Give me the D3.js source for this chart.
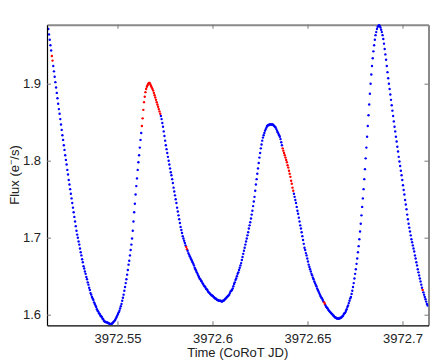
<!DOCTYPE html>
<html lang="en">
<head>
    <meta charset="UTF-8">
    <title>CoRoT light curve</title>
    <script type="text/javascript" src="https://cdn.jsdelivr.net/npm/d3@7/dist/d3.min.js"></script>
    <style>
        body { margin: 0; background: #fff; }
        text { font-family: "Liberation Sans", Arial, sans-serif; }
    </style>
</head>
<body>
    <script type="text/javascript">

        //Width and height
        var w = 436;
        var h = 360;
        var margin = {left: 47, right: 7.5, top: 24.7, bottom: 34.7};

        // light curve, one flux value per 32 s exposure
        var t0 = 3972.5136;          // time of first exposure (CoRoT JD)
        var cadence = 32 / 86400;    // days

        var flux = [
            1.971,1.964,1.957,1.950,1.943,1.936,1.930,1.923,1.916,1.909,
            1.902,1.895,1.888,1.881,1.874,1.867,1.861,1.854,1.847,1.840,
            1.833,1.827,1.820,1.814,1.807,1.801,1.795,1.788,1.782,1.775,
            1.769,1.763,1.757,1.751,1.745,1.739,1.733,1.727,1.721,1.715,
            1.709,1.704,1.700,1.695,1.691,1.686,1.681,1.677,1.672,1.668,
            1.663,1.660,1.656,1.653,1.649,1.646,1.642,1.639,1.635,1.632,
            1.628,1.626,1.623,1.621,1.619,1.616,1.614,1.612,1.610,1.607,
            1.605,1.604,1.602,1.601,1.599,1.598,1.597,1.595,1.594,1.592,
            1.591,1.591,1.590,1.590,1.590,1.589,1.589,1.588,1.588,1.588,
            1.588,1.589,1.590,1.591,1.592,1.593,1.595,1.597,1.599,1.601,
            1.603,1.605,1.608,1.611,1.614,1.618,1.622,1.626,1.631,1.636,
            1.641,1.646,1.652,1.658,1.665,1.670,1.677,1.684,1.691,1.699,
            1.709,1.721,1.733,1.744,1.756,1.767,1.777,1.788,1.798,1.807,
            1.817,1.827,1.836,1.845,1.855,1.866,1.876,1.883,1.889,1.893,
            1.896,1.898,1.900,1.901,1.901,1.899,1.897,1.895,1.893,1.891,
            1.888,1.885,1.882,1.879,1.876,1.873,1.870,1.867,1.864,1.861,
            1.858,1.854,1.849,1.844,1.838,1.832,1.826,1.820,1.815,1.810,
            1.805,1.800,1.795,1.790,1.785,1.781,1.776,1.771,1.765,1.760,
            1.755,1.750,1.745,1.739,1.734,1.729,1.724,1.719,1.714,1.710,
            1.706,1.702,1.699,1.696,1.693,1.690,1.688,1.685,1.683,1.680,
            1.678,1.676,1.674,1.672,1.670,1.668,1.666,1.664,1.661,1.659,
            1.657,1.655,1.653,1.651,1.649,1.647,1.646,1.644,1.643,1.641,
            1.640,1.638,1.637,1.636,1.634,1.633,1.632,1.630,1.629,1.628,
            1.627,1.626,1.625,1.625,1.624,1.623,1.622,1.621,1.621,1.620,
            1.619,1.619,1.618,1.618,1.618,1.618,1.617,1.617,1.618,1.618,
            1.619,1.620,1.621,1.622,1.623,1.624,1.625,1.626,1.628,1.630,
            1.631,1.632,1.634,1.637,1.640,1.642,1.645,1.647,1.650,1.653,
            1.655,1.658,1.661,1.664,1.667,1.671,1.675,1.679,1.683,1.687,
            1.691,1.695,1.699,1.703,1.707,1.712,1.716,1.720,1.725,1.730,
            1.735,1.741,1.747,1.753,1.761,1.769,1.776,1.783,1.790,1.797,
            1.804,1.810,1.816,1.821,1.826,1.830,1.833,1.836,1.839,1.841,
            1.843,1.845,1.846,1.846,1.847,1.847,1.847,1.847,1.847,1.847,
            1.846,1.845,1.844,1.843,1.841,1.839,1.837,1.835,1.833,1.831,
            1.828,1.824,1.820,1.816,1.813,1.810,1.807,1.804,1.801,1.798,
            1.794,1.791,1.787,1.783,1.779,1.774,1.770,1.765,1.761,1.757,
            1.753,1.749,1.745,1.740,1.735,1.731,1.726,1.721,1.716,1.712,
            1.707,1.702,1.697,1.692,1.687,1.684,1.680,1.677,1.673,1.669,
            1.665,1.662,1.659,1.656,1.653,1.651,1.648,1.646,1.643,1.641,
            1.639,1.637,1.634,1.632,1.630,1.628,1.626,1.624,1.622,1.621,
            1.619,1.617,1.616,1.614,1.612,1.610,1.609,1.608,1.606,1.605,
            1.604,1.603,1.602,1.601,1.600,1.599,1.598,1.597,1.596,1.596,
            1.595,1.595,1.595,1.595,1.595,1.596,1.596,1.597,1.598,1.599,
            1.601,1.602,1.603,1.605,1.607,1.610,1.612,1.615,1.618,1.621,
            1.623,1.627,1.631,1.636,1.641,1.647,1.653,1.659,1.666,1.673,
            1.681,1.689,1.698,1.708,1.718,1.729,1.740,1.751,1.763,1.776,
            1.789,1.803,1.817,1.831,1.845,1.859,1.873,1.887,1.900,1.912,
            1.923,1.933,1.942,1.950,1.957,1.963,1.967,1.971,1.974,1.975,
            1.976,1.975,1.973,1.970,1.967,1.963,1.958,1.952,1.945,1.938,
            1.931,1.923,1.915,1.907,1.900,1.893,1.886,1.879,1.872,1.865,
            1.858,1.851,1.844,1.838,1.831,1.825,1.818,1.812,1.805,1.799,
            1.793,1.787,1.781,1.775,1.768,1.762,1.756,1.749,1.743,1.737,
            1.730,1.724,1.718,1.713,1.708,1.703,1.698,1.694,1.690,1.686,
            1.682,1.677,1.673,1.668,1.664,1.659,1.655,1.651,1.647,1.643,
            1.639,1.635,1.632,1.629,1.626,1.623,1.620,1.617,1.614,1.612
        ];

        // flagged exposures (index ranges, drawn red)
        var flagged = [[5, 6], [133, 159], [196, 197], [333, 348], [392, 393], [532, 532]];

        var xTicks = [3972.55, 3972.6, 3972.65, 3972.7];
        var xTickLabels = ["3972.55", "3972.6", "3972.65", "3972.7"];
        var yTicks = [1.6, 1.7, 1.8, 1.9];
        var yTickLabels = ["1.6", "1.7", "1.8", "1.9"];
        var xDomain = [3972.5129, 3972.7137];
        var yDomain = [1.5862, 1.9766];

        function isFlagged(i) {
            for (var k = 0; k < flagged.length; k++) {
                if (i >= flagged[k][0] && i <= flagged[k][1]) return true;
            }
            return false;
        }

        var dataset = flux.map(function(f, i) {
            return {time: t0 + i * cadence, flux: f, flag: isFlagged(i)};
        });

        //scales
        var xScale = d3.scaleLinear()
                        .domain(xDomain)
                        .range([margin.left, w - margin.right]);

        var yScale = d3.scaleLinear()
                        .domain(yDomain)
                        .range([h - margin.bottom, margin.top]);

        //Create SVG element
        var svg = d3.select("body")
                        .append("svg")
                        .attr("width", w)
                        .attr("height", h);

        svg.append("clipPath")
            .attr("id", "plotclip")
            .append("rect")
            .attr("x", margin.left)
            .attr("y", margin.top - 1)
            .attr("width", w - margin.left - margin.right)
            .attr("height", h - margin.top - margin.bottom + 1);

        // top + right box (grey), ticks pointing in
        var topAxis = d3.axisTop(xScale).tickValues(xTicks).tickSize(-4).tickSizeOuter(0).tickFormat("");
        var rightAxis = d3.axisRight(yScale).tickValues(yTicks).tickSize(-4).tickSizeOuter(0).tickFormat("");

        svg.append("g")
            .attr("transform", "translate(0," + margin.top + ")")
            .call(topAxis)
            .call(function(g) {
                g.select(".domain").attr("stroke", "#8a8a8a").attr("stroke-width", 2);
                g.selectAll(".tick line").attr("stroke", "#777");
            });

        svg.append("g")
            .attr("transform", "translate(" + (w - margin.right) + ",0)")
            .call(rightAxis)
            .call(function(g) {
                g.select(".domain").attr("stroke", "#8a8a8a").attr("stroke-width", 2);
                g.selectAll(".tick line").attr("stroke", "#777");
            });

        // the points
        svg.append("g")
            .attr("clip-path", "url(#plotclip)")
            .selectAll("circle")
            .data(dataset)
            .enter()
            .append("circle")
            .attr("cx", function(d) { return xScale(d.time); })
            .attr("cy", function(d) { return yScale(d.flux); })
            .attr("r", 1.2)
            .attr("fill", function(d) { return d.flag ? "#ff0000" : "#0000ff"; });

        // bottom + left axes (black)
        var xAxis = d3.axisBottom(xScale)
                        .tickValues(xTicks)
                        .tickSize(-4)
                        .tickSizeOuter(0)
                        .tickPadding(8)
                        .tickFormat(function(d, i) { return xTickLabels[i]; });

        var yAxis = d3.axisLeft(yScale)
                        .tickValues(yTicks)
                        .tickSize(-4)
                        .tickSizeOuter(0)
                        .tickPadding(6)
                        .tickFormat(function(d, i) { return yTickLabels[i]; });

        svg.append("g")
            .attr("transform", "translate(0," + (h - margin.bottom) + ")")
            .call(xAxis)
            .call(function(g) {
                g.select(".domain").attr("stroke", "#000").attr("stroke-width", 1.2);
                g.selectAll(".tick line").attr("stroke", "#777");
                g.selectAll(".tick text").attr("font-size", 13).attr("fill", "#222");
            });

        svg.append("g")
            .attr("transform", "translate(" + margin.left + ",0)")
            .call(yAxis)
            .call(function(g) {
                g.select(".domain").attr("stroke", "#000").attr("stroke-width", 1.2);
                g.selectAll(".tick line").attr("stroke", "#777");
                g.selectAll(".tick text").attr("font-size", 13).attr("fill", "#222");
            });

        // axis labels
        svg.append("text")
            .attr("x", (margin.left + w - margin.right) / 2)
            .attr("y", 357)
            .attr("text-anchor", "middle")
            .attr("font-size", 13)
            .attr("fill", "#222")
            .text("Time (CoRoT JD)");

        var ylab = svg.append("text")
            .attr("transform", "translate(19," + ((margin.top + h - margin.bottom) / 2) + ") rotate(-90)")
            .attr("text-anchor", "middle")
            .attr("font-size", 13)
            .attr("fill", "#222");
        ylab.append("tspan").text("Flux (e");
        ylab.append("tspan").attr("dy", -5).attr("font-size", 9).text("\u2212");
        ylab.append("tspan").attr("dy", 5).text("/s)");

    </script>
</body>
</html>
